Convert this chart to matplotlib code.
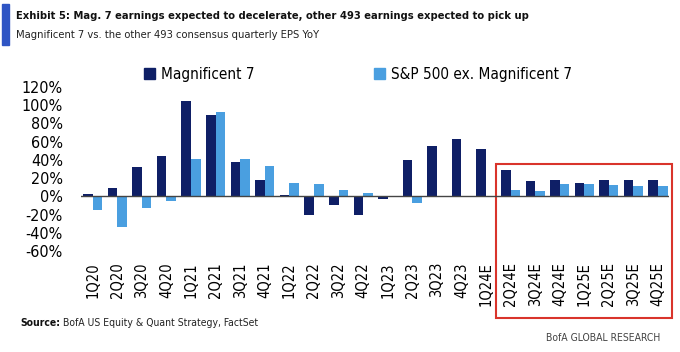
import numpy as np
import matplotlib.pyplot as plt
from matplotlib.patches import Rectangle, Patch

plt.rcParams['font.family'] = ['DejaVu Sans']
plt.rcParams['font.stretch'] = 'condensed'

quarters = ['1Q20', '2Q20', '3Q20', '4Q20', '1Q21', '2Q21', '3Q21', '4Q21',
            '1Q22', '2Q22', '3Q22', '4Q22', '1Q23', '2Q23', '3Q23', '4Q23',
            '1Q24E', '2Q24E', '3Q24E', '4Q24E', '1Q25E', '2Q25E', '3Q25E', '4Q25E']
mag7 = [3, 9, 32, 44, 105, 89, 38, 18, 1, -21, -10, -20, -3, 40, 55, 63,
        52, 29, 17, 18, 15, 18, 18, 18]
rest493 = [-15, -34, -13, -5, 41, 92, 41, 33, 15, 13, 7, 4, -0.5, -7, 0, 0,
           0, 7, 6, 13, 14, 12, 11, 11]
yticks = [-60, -40, -20, 0, 20, 40, 60, 80, 100, 120]

dark = '#0f1f66'
light = '#4a9fe0'

fig = plt.figure(figsize=(6.8, 3.52), dpi=100)
ax = fig.add_axes([0.119, 0.287, 0.865, 0.466])

x = np.arange(len(quarters))
w = 0.39
ax.bar(x - w / 2, mag7, w, color=dark)
ax.bar(x + w / 2, rest493, w, color=light)
ax.axhline(0, color='#444444', lw=1)

ax.set_xlim(-0.48, len(quarters) - 0.55)
ax.set_ylim(-60, 120)
ax.set_yticks(yticks)
ax.set_yticklabels([f'{v}%' for v in yticks], fontsize=11.5)
ax.set_xticks(x)
ax.set_xticklabels(quarters, rotation=90, fontsize=10.5)
ax.tick_params(axis='y', length=0, pad=13)
ax.tick_params(axis='x', length=0, pad=8)
for s in ax.spines.values():
    s.set_visible(False)

# box around the estimates
i0 = quarters.index('2Q24E')
ax.add_patch(Rectangle((i0 - 0.59, -133), len(quarters) - 1 + 0.57 - (i0 - 0.59), 168,
                       fill=False, ec='#d9342b', lw=1.5, clip_on=False))

# legend, two entries placed separately
for col, lab, x0 in [(dark, 'Magnificent 7', 144), (light, 'S&P 500 ex. Magnificent 7', 374)]:
    fig.legend([Patch(color=col)], [lab], loc='center left',
               bbox_to_anchor=(x0 / 680, 1 - 74 / 352), frameon=False, fontsize=11,
               handlelength=0.7, handleheight=0.7, handletextpad=0.4,
               borderpad=0, borderaxespad=0)

fig.add_artist(Rectangle((2 / 680, 1 - 45 / 352), 7 / 680, 41 / 352,
                         transform=fig.transFigure, color='#2f55c4'))
fig.text(16 / 680, 1 - 16 / 352, 'Exhibit 5: Mag. 7 earnings expected to decelerate, '
         'other 493 earnings expected to pick up', fontsize=8, weight='bold',
         va='center', color='#111111')
fig.text(16 / 680, 1 - 35 / 352, 'Magnificent 7 vs. the other 493 consensus quarterly EPS YoY',
         fontsize=8, va='center', color='#222222')
src = fig.text(20 / 680, 1 - 323 / 352, 'Source:', fontsize=7.5, weight='bold',
               va='center', color='#111111')
fig.canvas.draw()
bb = src.get_window_extent()
fig.text((bb.x1 + 3) / 680, 1 - 323 / 352, 'BofA US Equity & Quant Strategy, FactSet',
         fontsize=7.5, va='center', color='#222222')
fig.text(660 / 680, 1 - 338 / 352, 'BofA GLOBAL RESEARCH', fontsize=7.5, va='center',
         ha='right', color='#444444')

fig.savefig('out.png', dpi=100)
